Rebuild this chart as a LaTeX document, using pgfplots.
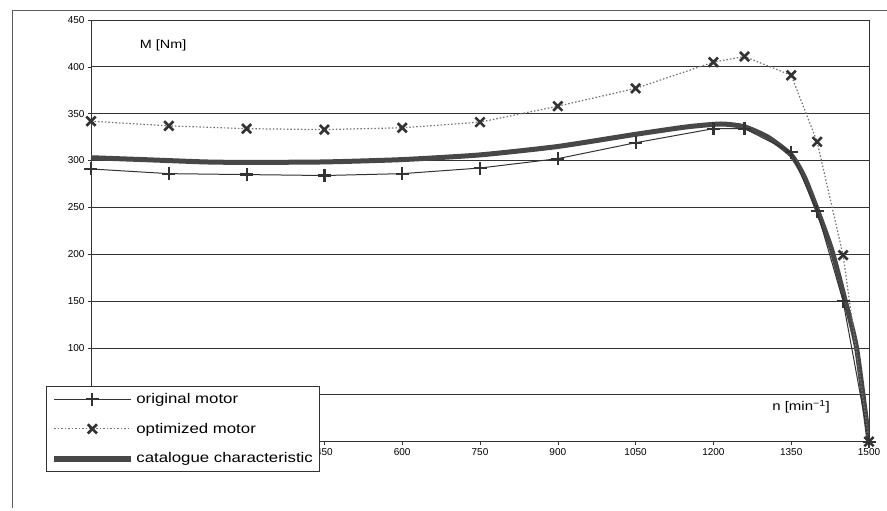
\documentclass[border=0pt]{standalone}
\usepackage{fontspec}
\setmainfont{Liberation Sans}
\newfontfamily\wide[FakeStretch=1.2]{Liberation Sans}
\usepackage{pgfplots}
\pgfplotsset{compat=1.18}
\definecolor{ink}{gray}{0.2}
\begin{document}
\begin{tikzpicture}
\begin{axis}[
  scale only axis, width=778bp, height=421.6bp,
  xmin=0, xmax=1500, ymin=0, ymax=450,
  xtick={0,150,...,1500}, ytick={0,50,...,450},
  xticklabels={{},{},{},450,600,750,900,1050,1200,1350,1500},
  yticklabels={{},{},100,150,200,250,300,350,400,450},
  ymajorgrids, major grid style={ink, line width=0.8bp},
  axis line style={ink, line width=0.8bp},
  tick style={ink, line width=0.6bp}, tick align=outside, major tick length=3bp,
  tick pos=left,
  ticklabel style={font=\fontsize{10bp}{12bp}\selectfont},
  /pgf/number format/assume math mode=true,
  /pgf/number format/1000 sep={},
  legend style={at={(axis cs:-86.8,59.3)}, anchor=north west, draw=ink, fill=white,
    font=\wide\fontsize{14bp}{16bp}\selectfont, inner xsep=5bp, inner ysep=5bp,
    row sep=14bp, line width=0.8bp},
  legend cell align=left,
  legend image code/.code={\draw[mark repeat=2,mark phase=2,#1] plot coordinates {(0bp,0bp) (38bp,0bp) (77bp,0bp)};},
]
% catalogue characteristic (drawn first, legend added manually)
\addplot[ink!90, line width=5bp, smooth, tension=0.35, forget plot] coordinates {
  (0,303) (100,301) (220,298.5) (300,298) (450,298.5) (600,301) (750,306) (900,315)
  (1050,328) (1150,336) (1215,339) (1260,336) (1305,325) (1350,306) (1375,283)
  (1400,248) (1428,205) (1452,155) (1476,100) (1500,0)};
\addplot[ink, line width=1bp, mark=+, mark size=6.5bp, mark options={line width=2.2bp, solid}] coordinates {
  (0,291) (150,286) (300,285) (450,284) (600,286) (750,292) (900,302) (1050,319)
  (1200,334) (1260,334) (1350,309) (1400,246) (1450,150) (1500,0)};
\addlegendentry{original motor}
\addplot[black!55, line width=1.2bp, dash pattern=on 1.5bp off 2bp, mark=x, mark size=6.5bp,
  mark options={solid, ink, line width=2.6bp}] coordinates {
  (0,342) (150,337) (300,334) (450,333) (600,335) (750,341) (900,358) (1050,377)
  (1200,405) (1260,411) (1350,391) (1400,320) (1450,199) (1500,0)};
\addlegendentry{optimized motor}
\addlegendimage{ink!90, line width=6bp}
\addlegendentry{catalogue characteristic}
\node[anchor=west, inner sep=0pt, font=\wide\fontsize{12bp}{14bp}\selectfont] at (axis cs:94,423) {M [Nm]};
\node[inner sep=0pt, font=\wide\fontsize{12.5bp}{14bp}\selectfont] at (axis cs:1369,37) {n [min\textsuperscript{−1}]};
\end{axis}
\draw[ink!80, line width=0.8bp] (-79bp,-66bp) -- (-79bp,431.6bp) -- (796bp,431.6bp);
\pgfresetboundingbox
\path[use as bounding box] (-91bp,-69.4bp) rectangle (796bp,441.6bp);
\end{tikzpicture}
\end{document}
